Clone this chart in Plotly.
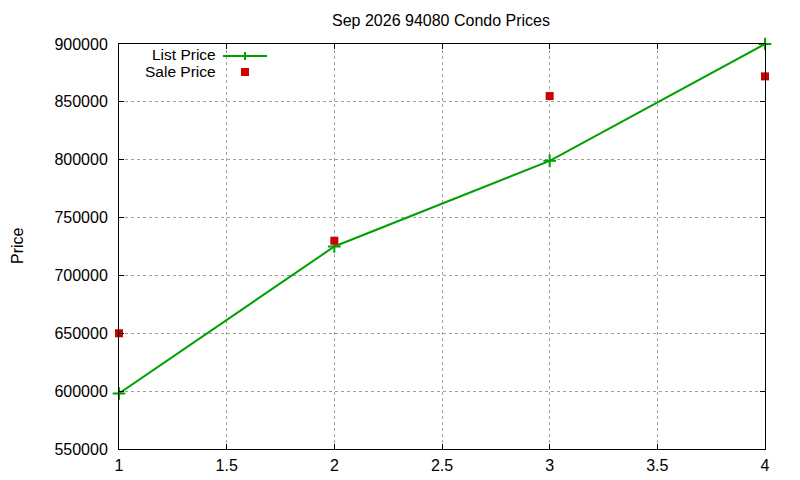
import plotly.graph_objs as go

# values
x_vals = [1, 2, 3, 4]
list_price = [598000, 725000, 799000, 900000]
sale_price = [650000, 730000, 855000, 872000]

x_ticks = [1, 1.5, 2, 2.5, 3, 3.5, 4]
y_ticks = [550000, 600000, 650000, 700000, 750000, 800000, 850000, 900000]

GREEN = "#00a000"
RED = "#cc0000"
FONT = "Liberation Sans, Arial, sans-serif"

# the page body has an 8px margin, so the figure is made smaller to fit the window
PAGE_OFF = 8
L, T, W, H = 119, 44, 646, 405

fig = go.Figure()

fig.add_trace(go.Scatter(
    x=x_vals, y=list_price,
    mode="lines+markers",
    name="List Price",
    line=dict(color=GREEN, width=2),
    marker=dict(symbol="cross-thin", size=9, line=dict(color=GREEN, width=2)),
    cliponaxis=False,
))
fig.add_trace(go.Scatter(
    x=x_vals, y=sale_price,
    mode="markers",
    name="Sale Price",
    marker=dict(symbol="square", size=8, color=RED),
    cliponaxis=False,
))


def px(x):
    return (x - L) / W


def py(y):
    return (T + H - y) / H


# gnuplot style key: text right aligned, sample on the right
for label, ypix in [("List Price", 55), ("Sale Price", 72)]:
    fig.add_annotation(x=px(218), y=py(ypix), xref="paper", yref="paper", text=label,
                       showarrow=False, xanchor="right", yanchor="middle",
                       font=dict(family=FONT, size=15.5, color="black"))
fig.add_shape(type="line", xref="paper", yref="paper",
              x0=px(223), x1=px(267), y0=py(56), y1=py(56),
              line=dict(color=GREEN, width=2))
fig.add_shape(type="line", xref="paper", yref="paper",
              x0=px(245), x1=px(245), y0=py(52), y1=py(60),
              line=dict(color=GREEN, width=2))
fig.add_shape(type="rect", xref="paper", yref="paper",
              x0=px(241), x1=px(249), y0=py(68), y1=py(76),
              line=dict(width=0), fillcolor=RED)

# y axis title placed like gnuplot's
fig.add_annotation(x=px(17), y=py(246), xref="paper", yref="paper", text="Price",
                   showarrow=False, textangle=-90, xanchor="center", yanchor="middle",
                   font=dict(family=FONT, size=16, color="black"))

axis_common = dict(
    showline=True, linecolor="black", linewidth=1, mirror="ticks",
    ticks="inside", ticklen=5, tickcolor="black",
    showgrid=True, gridcolor="#a0a0a0", gridwidth=1, griddash="dot",
    zeroline=False, automargin=False,
    tickfont=dict(family=FONT, size=16, color="black"),
)

fig.update_layout(
    width=800 - PAGE_OFF, height=480 - PAGE_OFF,
    margin=dict(l=L - PAGE_OFF, r=35, t=T - PAGE_OFF, b=31, autoexpand=False),
    paper_bgcolor="white", plot_bgcolor="white",
    showlegend=False,
    title=dict(text="Sep 2026 94080 Condo Prices", x=(441 - PAGE_OFF) / (800 - PAGE_OFF),
               xanchor="center", y=1 - (20 - PAGE_OFF) / (480 - PAGE_OFF), yanchor="middle",
               font=dict(family=FONT, size=16, color="black")),
    xaxis=dict(range=[1, 4], tickvals=x_ticks, ticktext=[f"{v:g}" for v in x_ticks],
               ticklabelstandoff=2, **axis_common),
    yaxis=dict(range=[550000, 900000], tickvals=y_ticks, ticktext=[str(v) for v in y_ticks],
               ticklabelstandoff=7, **axis_common),
)

fig.write_html("out.html")
